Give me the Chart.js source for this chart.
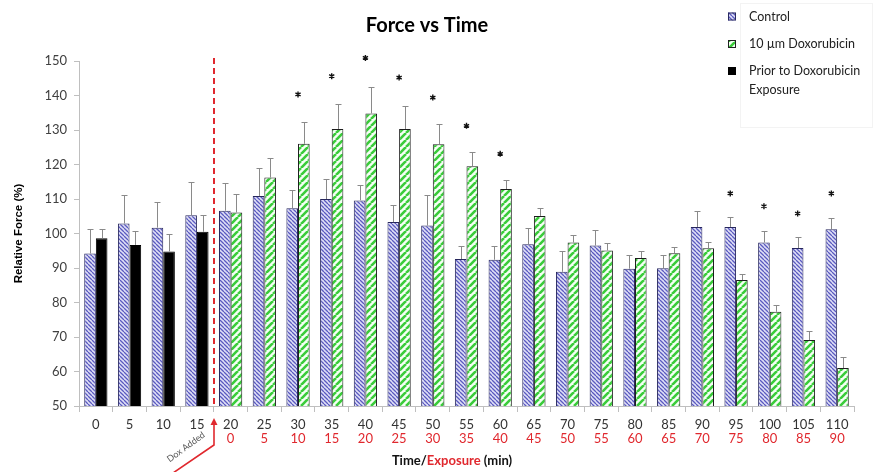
<!DOCTYPE html>
<html>
<head>
<meta charset="utf-8">
<script src="https://cdn.jsdelivr.net/npm/chart.js@4.4.0/dist/chart.umd.min.js"></script>
<style>
  html, body { margin: 0; padding: 0; background: #fff; }
</style>
</head>
<body>
<canvas id="force-chart" width="875" height="472"></canvas>
<script>
// time points (min) and the exposure time that starts once dox is added
const times = ['0', '5', '10', '15', '20', '25', '30', '35', '40', '45', '50', '55',
    '60', '65', '70', '75', '80', '85', '90', '95', '100', '105', '110']
const exposure = ['', '', '', '', '0', '5', '10', '15', '20', '25', '30', '35',
    '40', '45', '50', '55', '60', '65', '70', '75', '80', '85', '90']

const control = [94.2, 102.9, 101.7, 105.3, 106.6, 110.9, 107.3, 110.0, 109.6, 103.3, 102.3, 92.6,
    92.4, 96.9, 88.9, 96.5, 89.8, 89.9, 101.9, 101.9, 97.4, 95.8, 101.2]
const controlErr = [7.2, 8.2, 7.5, 9.5, 8.0, 8.2, 5.2, 5.7, 4.4, 5.0, 9.0, 3.9,
    4.0, 4.7, 6.1, 4.4, 4.0, 3.9, 4.5, 2.8, 3.4, 3.2, 3.4]

const prior = [98.6, 96.7, 94.8, 100.5, null, null, null, null, null, null, null, null,
    null, null, null, null, null, null, null, null, null, null, null]
const priorErr = [2.8, 3.9, 5.0, 5.0, null, null, null, null, null, null, null, null,
    null, null, null, null, null, null, null, null, null, null, null]

const dox = [null, null, null, null, 106.1, 116.2, 126.0, 130.3, 134.8, 130.3, 125.9, 119.5,
    112.9, 105.1, 97.4, 95.1, 92.9, 94.3, 95.7, 86.5, 77.3, 69.1, 61.0]
const doxErr = [null, null, null, null, 5.3, 5.6, 6.2, 7.1, 7.6, 6.7, 5.7, 4.0,
    2.6, 2.3, 2.2, 2.1, 2.1, 1.8, 1.7, 1.8, 1.9, 2.7, 3.3]

// significance marks: height of the star, and which bar it sits over
const stars = [null, null, null, null, null, null, 140.3, 145.6, 150.9, 145.2, 139.4, 131.2,
    123.1, null, null, null, null, null, null, 111.6, 107.9, 105.8, 111.6]
const starOver = ['', '', '', '', '', '', 'mid', 'mid', 'mid', 'mid', 'mid', 'mid',
    'mid', '', '', '', '', '', '', 'control', 'control', 'control', 'control']

const RED = '#e0282e'
Chart.defaults.font.family = 'Lato'

function makeHatch(size, bg, fg, lw, down) {
    const c = document.createElement('canvas')
    c.width = size
    c.height = size
    const g = c.getContext('2d')
    g.fillStyle = bg
    g.fillRect(0, 0, size, size)
    g.strokeStyle = fg
    g.lineWidth = lw
    g.beginPath()
    for (let k = -1; k <= 1; k++) {
        if (down) {
            g.moveTo(k * size, 0)
            g.lineTo(k * size + size, size)
        } else {
            g.moveTo(k * size, size)
            g.lineTo(k * size + size, 0)
        }
    }
    g.stroke()
    return g.createPattern(c, 'repeat')
}

const controlFill = makeHatch(4, '#e0e0f6', '#5a5ac0', 1.3, true)
const doxFill = makeHatch(7, '#f4fff4', '#3acc3a', 2.6, false)

const errorBars = {
    id: 'errorBars',
    afterDatasetsDraw(chart) {
        const ctx = chart.ctx
        const y = chart.scales.y
        ctx.save()
        ctx.strokeStyle = '#8a8a8a'
        ctx.lineWidth = 1
        chart.data.datasets.forEach((ds, i) => {
            if (!ds.errors) return
            chart.getDatasetMeta(i).data.forEach((bar, j) => {
                const v = ds.data[j]
                const e = ds.errors[j]
                if (v == null || e == null || isNaN(bar.x)) return
                const x = Math.round(bar.x) + 0.5
                const top = Math.round(y.getPixelForValue(v + e)) + 0.5
                ctx.beginPath()
                ctx.moveTo(x, bar.y)
                ctx.lineTo(x, top)
                ctx.moveTo(x - 3, top)
                ctx.lineTo(x + 3, top)
                ctx.stroke()
            })
        })
        ctx.restore()
    }
}

const extras = {
    id: 'extras',
    afterDraw(chart) {
        const ctx = chart.ctx
        const xs = chart.scales.x
        const ys = chart.scales.y
        const area = chart.chartArea
        ctx.save()

        // stars
        const controlMeta = chart.getDatasetMeta(0)
        ctx.strokeStyle = '#111'
        ctx.lineWidth = 1.4
        stars.forEach((s, i) => {
            if (s == null) return
            let x = xs.getPixelForValue(i)
            if (starOver[i] === 'control') x = controlMeta.data[i].x
            const y = ys.getPixelForValue(s)
            ctx.beginPath()
            for (let a = 0; a < 3; a++) {
                const ang = Math.PI / 2 + a * Math.PI / 3
                ctx.moveTo(x + 3 * Math.cos(ang), y - 3 * Math.sin(ang))
                ctx.lineTo(x - 3 * Math.cos(ang), y + 3 * Math.sin(ang))
            }
            ctx.stroke()
        })

        // dox added line
        const xd = Math.round((xs.getPixelForValue(3) + xs.getPixelForValue(4)) / 2)
        ctx.strokeStyle = RED
        ctx.lineWidth = 2
        ctx.setLineDash([6, 4])
        ctx.beginPath()
        ctx.moveTo(xd, area.top - 3)
        ctx.lineTo(xd, area.bottom)
        ctx.stroke()
        ctx.setLineDash([])

        // arrow
        ctx.lineWidth = 1.6
        ctx.beginPath()
        ctx.moveTo(xd - 41, 473)
        ctx.lineTo(xd, 445)
        ctx.lineTo(xd, 424)
        ctx.stroke()
        ctx.fillStyle = RED
        ctx.beginPath()
        ctx.moveTo(xd, 418)
        ctx.lineTo(xd - 3.5, 425)
        ctx.lineTo(xd + 3.5, 425)
        ctx.closePath()
        ctx.fill()

        ctx.save()
        ctx.translate(xd - 28, 447)
        ctx.rotate(-Math.atan2(30, 41))
        ctx.fillStyle = '#555'
        ctx.font = '9px Lato'
        ctx.textAlign = 'center'
        ctx.textBaseline = 'middle'
        ctx.fillText('Dox Added', 0, 0)
        ctx.restore()

        // x axis title in two colours
        ctx.font = 'bold 13px Lato'
        ctx.textBaseline = 'middle'
        ctx.textAlign = 'left'
        const parts = [['Time/', '#111'], ['Exposure', RED], [' (min)', '#111']]
        let total = 0
        parts.forEach(p => total += ctx.measureText(p[0]).width)
        let tx = 452 - total / 2
        parts.forEach(p => {
            ctx.fillStyle = p[1]
            ctx.fillText(p[0], tx, 461)
            tx += ctx.measureText(p[0]).width
        })

        // legend
        ctx.strokeStyle = '#f3f3f3'
        ctx.lineWidth = 1
        ctx.strokeRect(740.5, 3.5, 132, 124)
        const items = [
            { text: chart.data.datasets[0].label, fill: controlFill, border: '#2a2a60', y: 16.5 },
            { text: chart.data.datasets[2].label, fill: doxFill, border: '#222', y: 44 },
            { text: chart.data.datasets[1].label, fill: '#000', border: '#000', y: 71 }
        ]
        ctx.font = '12.5px Lato'
        items.forEach(it => {
            ctx.fillStyle = it.fill
            ctx.fillRect(728, it.y - 4, 8, 8)
            ctx.strokeStyle = it.border
            ctx.strokeRect(728.5, it.y - 3.5, 7, 7)
            ctx.fillStyle = '#222'
            // simple word wrap
            const words = it.text.split(' ')
            let line = ''
            let ly = it.y
            words.forEach(w => {
                const test = line ? line + ' ' + w : w
                if (ctx.measureText(test).width > 115 && line) {
                    ctx.fillText(line, 749, ly)
                    line = w
                    ly += 18.5
                } else {
                    line = test
                }
            })
            ctx.fillText(line, 749, ly)
        })

        ctx.restore()
    }
}

const data = {
    labels: times,
    datasets: [{
        label: 'Control',
        data: control,
        errors: controlErr,
        backgroundColor: controlFill,
        borderColor: '#26265c',
        borderWidth: 1
    }, {
        label: 'Prior to Doxorubicin Exposure',
        data: prior,
        errors: priorErr,
        backgroundColor: '#000',
        borderColor: '#000',
        borderWidth: 1
    }, {
        label: '10 µm Doxorubicin',
        data: dox,
        errors: doxErr,
        backgroundColor: doxFill,
        borderColor: '#1c1c1c',
        borderWidth: 1
    }]
}

const config = {
    type: 'bar',
    data: data,
    options: {
        responsive: false,
        animation: false,
        skipNull: true,
        categoryPercentage: 0.69,
        barPercentage: 1.0,
        layout: { padding: { left: 0, right: 21, top: 0, bottom: 0 } },
        plugins: {
            legend: { display: false },
            tooltip: { enabled: false },
            title: {
                display: true,
                text: 'Force vs Time',
                color: '#000',
                font: { family: 'Lato', size: 20, weight: 'bold' },
                padding: { top: 14, bottom: 23 }
            }
        },
        scales: {
            x: {
                offset: true,
                grid: { drawOnChartArea: false, drawTicks: true, tickLength: 6, color: '#bfbfbf', offset: true },
                border: { color: '#bfbfbf' },
                ticks: { color: '#333', font: { size: 13 }, padding: 5, maxRotation: 0, autoSkip: false },
                afterFit(scale) { scale.height = 25 }
            },
            x2: {
                type: 'category',
                position: 'bottom',
                weight: 1,
                labels: exposure,
                offset: true,
                grid: { display: false, drawTicks: false },
                border: { display: false },
                ticks: { color: RED, font: { size: 13 }, padding: 0, maxRotation: 0, autoSkip: false },
                afterFit(scale) { scale.height = 41 }
            },
            y: {
                min: 50,
                max: 150,
                grid: { drawOnChartArea: false, drawTicks: true, tickLength: 5, color: '#bfbfbf' },
                border: { color: '#bfbfbf' },
                ticks: { stepSize: 10, color: '#404040', font: { size: 13 }, padding: 7 },
                title: {
                    display: true,
                    text: 'Relative Force (%)',
                    color: '#000',
                    font: { family: 'Liberation Sans', size: 11.5, weight: 'bold' },
                    padding: { top: 12, bottom: 0 }
                },
                afterFit(scale) { scale.width = 79 }
            }
        }
    },
    plugins: [errorBars, extras]
}

const myChart = new Chart(document.getElementById('force-chart'), config)
</script>
</body>
</html>
